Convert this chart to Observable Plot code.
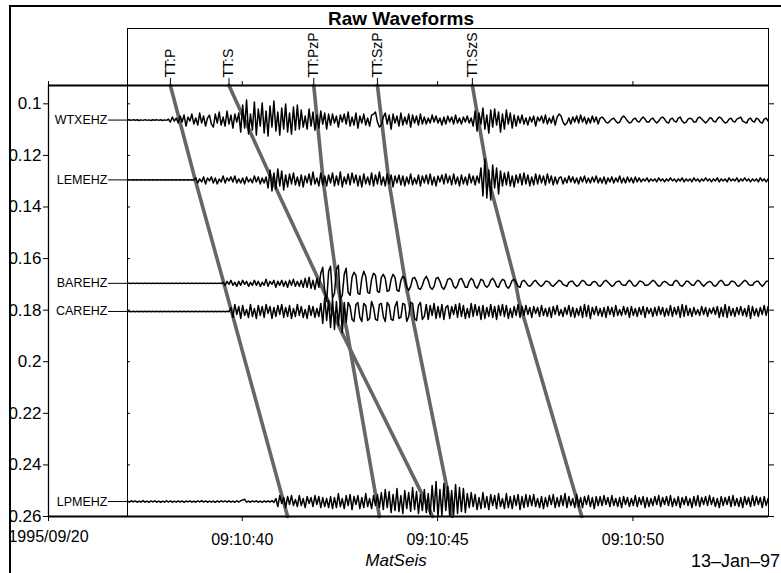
<!DOCTYPE html>
<html>
<head>
<meta charset="utf-8">
<script src="https://cdn.jsdelivr.net/npm/d3@7"></script>
<script src="https://cdn.jsdelivr.net/npm/@observablehq/plot@0.6"></script>
<style>
html, body { margin: 0; padding: 0; background: #fff; }
#fig { position: relative; width: 781px; height: 573px; overflow: hidden; background: #fff;
       font-family: "Liberation Sans", Arial, Helvetica, sans-serif; color: #000; }
#clip { position: absolute; left: 9px; top: 5px; width: 772px; height: 568px; box-sizing: border-box;
        border-left: 2px solid #000; border-top: 2px solid #000; overflow: hidden; }
#inner { position: absolute; left: -11px; top: -7px; width: 781px; height: 573px; }
#title { position: absolute; left: 0; top: 9px; width: 802px; text-align: center;
         font-weight: bold; font-size: 19px; line-height: 19px; }
#chart { position: absolute; left: 0; top: 28px; }
#prog { position: absolute; left: 296px; top: 552px; width: 200px; text-align: center;
        font-style: italic; font-size: 17px; line-height: 17px; }
#date { position: absolute; left: 580px; top: 552px; width: 200px; text-align: right;
        font-size: 18px; line-height: 18px; }
</style>
</head>
<body>
<div id="fig">
  <div id="clip">
    <div id="inner">
      <div id="title">Raw Waveforms</div>
      <div id="chart"></div>
      <div id="prog">MatSeis</div>
      <div id="date">13–Jan–97</div>
    </div>
  </div>
</div>
<script>
// ---- stations (distance axis) ----
const stationNames = ["WTXEHZ", "LEMEHZ", "BAREHZ", "CAREHZ", "LPMEHZ"];
const stationDist = [0.1063, 0.1295, 0.1696, 0.1805, 0.2542];

// ---- waveform samples (counts ~ screen px, + = up) ----
const traceStart = 37.06;   // seconds after 09:10:00
const traceStep = 0.05;     // seconds per sample
const traceGain = 0.000388; // distance units per count

const wtxSamples = [
  0,0.3,-0.3,0.4,-0.2,0.3,-0.4,0.2,-0.3,0.4,-0.3,0.2,-0.4,0.3,-0.2,0.4,-0.3,0.3,-0.4,0.2,-0.3,
  1,-2,3,-1,2,-3,
  4,-2,5,-6,3,-1,6,-4,2,-5,7,-3,4,-6,2,5,-4,-7,6,-3,8,-5,3,-6,9,-4,5,-8,6,-2,7,
  -12,15,-8,20,-14,6,-10,18,-15,11,-6,17,-13,9,-16,14,-7,19,-11,8,-15,12,-9,16,-12,7,-14,13,-10,15,-9,
  10,-7,4,-9,11,-6,8,-10,5,-8,9,-4,7,-9,6,
  -5,6,-3,4,-7,5,-2,6,-4,8,-6,3,-5,7,-8,4,-3,6,-5,2,-6,5,
  6,8,-2,-7,-5,3,7,-4,5,-9,6,-3,4,-6,7,-5,3,-4,6,-7,5,-3,4,-5,6,-4,
  3,-4,2,-3,5,-2,4,-3,2,-5,3,-4,4,-2,3,-4,5,-3,2,-4,3,-2,4,-3,2,
  -6,9,-11,7,-4,12,-9,5,-13,10,-7,11,-5,8,-12,6,-9,10,-4,7,-8,5,-6,4,
  -3,5,-4,2,-5,3,-2,4,-6,3,-1,4,-3,5,-4,2,-3,4,-5,3,6,4,-2,-5,-3,2,-4,3,-2,4,-3,5,-2,3,-4,2,-3,4,-2,3,-4,
  2,3,1,-2,-3,-1,1,2,-1,-3,-2,2,4,2,-1,-3,-2,1,2,-1,-2,1,3,1,-2,-2,1,2,-1,-3,
  -1,2,3,1,-2,-3,1,2,-1,-2,2,3,-1,-3,-2,1,2,1,-2,-2,2,3,1,-1,-3,-1,2,2,-1,-2,
  1,3,2,-1,-3,-2,1,2,-1,-2,1,2,3,-1,-2,-3,1,2,-1,-2,2,1,-2,-3,1,2,-1
];
const lemSamples = [
  0,0.2,-0.2,0.2,-0.2,0.2,-0.2,0.2,-0.2,0.2,-0.2,0.2,-0.2,0.2,-0.2,0.2,-0.2,0.2,
  -0.2,0.2,-0.2,0.2,-0.2,0.2,-0.2,0.2,-0.2,0.2,-0.2,0.2,-0.2,0.2,-0.2,0.2,-0.2,
  2,-3,1,-2,3,-4,2,-1,3,-3,2,-4,1,-2,4,-3,2,-1,3,-2,4,-3,1,-3,2,-4,3,-2,1,-3,4,-2,3,-4,2,-3,3,
  -8,10,-11,7,-9,11,-6,9,-10,5,-7,
  6,-4,7,-5,3,-6,5,-7,4,-3,6,-5,8,-4,2,-6,7,-5,4,-6,5,-3,7,-6,4,-5,8,-7,3,-4,
  6,-5,7,-3,5,-6,4,-7,6,-4,3,-5,7,-6,5,-4,8,-5,3,-6,6,-4,5,-7,4,-3,5,
  -5,4,-6,3,-4,6,-5,2,-4,5,-6,4,-3,5,-4,6,-5,3,-6,4,-2,5,-4,6,-3,4,-5,6,-4,3,
  -6,5,-4,3,-5,6,-3,4,-5,4,-3,
  12,-16,21,-18,10,-20,15,-8,12,-14,9,-6,
  7,-5,8,-6,4,-7,5,-3,6,-5,7,-4,5,-6,3,-5,6,-4,5,-3,4,-5,6,-3,4,-5,3,-4,2,
  3,-4,2,-3,4,-2,3,-3,2,-4,3,-2,4,-3,2,-3,3,-2,4,-3,2,-3,3,-4,2,-2,3,-3,2,-2,
  4,-3,2,-3,3,-2,2,-3,3,-2,2,
  -2,1,-1,2,-2,1,-1,1,-2,2,-1,1,-2,1,-1,2,-1,1,-2,1,-1,2,-2,1,-1,1,-2,2,-1,1,
  -2,1,-1,2,-1,1,-2,1,-1,2,-2,1,-1,1,-2,2,-1,1,-1,2,-2,1,-1,2,-1,1,-2,1,-1,1,
  -2,2,-1,1,-2,1
];
const barSamples = [
  0,0.2,-0.2,0.2,-0.2,0.2,-0.2,0.2,-0.2,0.2,-0.2,0.2,-0.2,0.2,-0.2,0.2,-0.2,0.2,-0.2,0.2,-0.2,0.2,-0.2,0.2,-0.2,
  0.2,-0.2,0.2,-0.2,0.2,-0.2,0.2,-0.2,0.2,-0.2,0.2,-0.2,0.2,-0.2,0.2,-0.2,0.2,-0.2,0.2,-0.2,0.2,-0.2,0.2,-0.2,
  1,-2,2,-1,3,-2,1,-3,2,-2,3,-1,2,-3,1,-2,3,-2,2,-3,1,-2,4,-3,2,-1,3,-4,2,-2,
  3,-3,2,-4,3,-2,4,-3,2,-3,3,-4,
  5,-4,6,-5,3,-6,5,-4,
  10,16,-8,-18,12,17,-15,-10,14,18,-16,-12,9,15,
  -9,-12,6,11,8,-10,-11,5,12,7,-9,-10,4,10,8,-8,-9,6,9,5,-8,-7,4,9,6,-7,-8,
  3,7,5,-4,-7,-3,5,6,2,-5,-6,-2,4,7,3,-4,-6,-3,5,6,2,-4,-6,-2,4,
  5,3,-3,-5,-2,4,5,1,-4,-4,2,5,3,-3,-5,-1,4,3,-2,-4,-2,3,5,2,-3,-4,1,4,3,-3,-5,-2,3,4,1,-3,-4,
  2,3,1,-2,-3,-1,2,3,0,-2,-3,-1,2,2,1,-2,-3,-1,1,3,2,-1,-2,-3,1,2,2,-1,-3,-2,
  1,3,2,-1,-2,-2,1,2,1,-2,-3,-1,2,3,1,-1,-3,-2,1,2,2,-1,-2,-2,1,3,1,-2,-3,-1,
  2,2,1,-2,-2,-1,1,3,2,-1,-3,-2,1,2,1,-1,-2,-2,2,3,1,-2,-3,-1,2,2,0,-2,-2,1,
  3,2,-1,-3,-1,1,2,1,-2,-3,-1,2,3,1,-2,-2,-1,2,2,1,-2,-3,-1,1,3,2,-1,-2,-2,1,
  2,2,-1,-3,-1,2,2
];
const carSamples = [
  0,0.2,-0.2,0.2,-0.2,0.2,-0.2,0.2,-0.2,0.2,-0.2,0.2,-0.2,0.2,-0.2,0.2,-0.2,0.2,-0.2,0.2,-0.2,0.2,-0.2,0.2,-0.2,0.2,-0.2,
  0.2,-0.2,0.2,-0.2,0.2,-0.2,0.2,-0.2,0.2,-0.2,0.2,-0.2,0.2,-0.2,0.2,-0.2,0.2,-0.2,0.2,-0.2,0.2,-0.2,0.2,-0.2,0.2,-0.2,
  4,-6,7,-3,5,-7,6,-4,2,-6,7,-5,3,-7,6,-4,5,-6,7,-2,5,-7,4,-5,6,-3,7,-6,4,-5,
  6,-7,3,-5,7,-4,5,-6,2,-7,6,-4,5,-6,3,-5,
  8,-12,14,-9,11,-16,13,-18,10,-14,12,-21,9,-11,
  9,5,-8,-10,7,9,-6,-10,8,6,-9,-7,10,4,-8,-9,7,8,-5,-10,9,6,-8,-9,5,10,-7,-6,8,7,
  -10,-5,9,8,-7,-9,6,9,-8,
  -5,7,-8,6,-4,8,-7,5,-6,7,-8,4,6,-7,5,-3,7,-6,8,-5,6,-7,3,-6,8,-5,7,-4,5,-8,
  6,-7,4,-5,7,-6,5,-8,6,-4,7,-5,6,-7,3,-6,5,-4,7,-6,
  5,-4,6,-3,4,-6,5,-2,4,-5,6,-4,3,-5,4,-6,5,-3,6,-4,2,-5,4,-3,6,-5,4,-6,3,-4,
  5,-6,7,-5,6,-7,4,-3,5,-4,3,-5,4,-6,5,-3,4,-5,6,-4,2,-4,5,-3,4,-6,5,-4,3,-5,
  4,-3,5,-6,4,-2,3,-5,4,-4,5,-3,4,-5,3,-4,6,-5,4,-3,5,-6,7,-5,6,-4,3,-5,4,-3,
  2,-4,5,-3,4,-5,3,-2,4,-3,5,-6,4,-5,7,-6,5,-4,3,-5,4,-3,5,-4,3,-5,6,-7,5,-4,
  3,-5,4,-3,6,-4,5
];
const lpmSamples = [
  0.5,-0.6,0.8,-0.4,0.6,-0.7,0.4,-0.5,0.9,-0.6,0.5,-0.8,0.6,-0.4,0.7,-0.6,0.5,-0.7,0.4,-0.6,
  0.8,-0.5,0.6,-0.7,0.4,-0.6,0.7,-0.5,0.6,-0.8,0.5,-0.4,0.7,-0.6,0.5,-0.7,0.6,-0.4,0.8,-0.5,
  0.6,-0.7,0.4,-0.6,0.5,-0.8,0.6,-0.5,0.7,-0.4,0.6,-0.5,0.7,-0.6,0.5,-0.7,0.8,-0.5,0.6,1.6,
  2.2,-0.6,0.5,-0.7,0.6,-0.4,0.7,-0.6,0.5,-0.8,0.6,-0.5,0.7,-0.6,1,-1,
  3,-5,6,-2,4,-6,5,-3,6,-4,2,-5,6,-4,3,-6,5,-2,4,-5,6,-3,5,-6,4,-5,3,-6,
  5,-7,4,-6,8,-5,3,-7,6,-4,7,-8,5,-3,6,-7,4,-6,8,-5,3,-7,6,-4,7,-6,
  9,-8,12,-6,10,-11,7,-9,13,-10,6,-12,11,-7,9,-10,14,-8,10,-12,7,-9,12,-11,8,
  -13,16,-10,20,-15,12,-14,18,-9,15,-15,11,-13,17,-12,14,-10,13,-11,
  8,-6,9,-5,7,-8,4,-7,9,-6,5,-8,7,-4,6,-7,8,-5,3,-7,8,-6,5,-7,6,-4,7,-8,5,-6,7,-5,
  6,-4,7,-5,3,-6,5,-7,4,-5,6,-3,7,-6,4,-5,6,-4,8,-6,5,-4,3,-6,7,-5,4,-6,5,-3,6,-5,4,-7,5,-4,
  5,-4,6,-3,4,-5,6,-4,3,-5,4,-6,5,-3,4,-5,3,-4,6,-5,4,-3,5,-6,4,-5,3,-4,5,-3,
  6,-5,4,-3,5,-4,6,-5,3,-4,5,-6,4,-3,5,-4,3,-6,5,-4,6,-5,4,-3,5,-4,6,-3,4,-5,
  3,-6,5,-4,4,-3,5,-5,6,-4,3,-5,4,-6,5,-3,4,-5,6,-4,5,-3,4,-6,5,-4,3
];
const traceSamples = [wtxSamples, lemSamples, barSamples, carSamples, lpmSamples];

// ---- travel-time curves (distance, time in s after 09:10:00) ----
const phaseNames = ["TT:P", "TT:S", "TT:PzP", "TT:SzP", "TT:SzS"];
const pDist   = [0.0929, 0.1297, 0.1697, 0.26];
const pTime   = [38.16, 38.80, 39.53, 41.16];
const sDist   = [0.0929, 0.1297, 0.1697, 0.1878, 0.2525, 0.26];
const sTime   = [39.66, 40.77, 42.00, 42.52, 44.64, 44.87];
const pzpDist = [0.0929, 0.1297, 0.1697, 0.1889, 0.26];
const pzpTime = [41.83, 42.07, 42.43, 42.69, 43.51];
const szpDist = [0.0929, 0.1297, 0.1697, 0.1763, 0.2467, 0.26];
const szpTime = [43.46, 43.75, 44.18, 44.27, 45.21, 45.38];
const szsDist = [0.0929, 0.1297, 0.1697, 0.1763, 0.26];
const szsTime = [45.89, 46.31, 47.00, 47.08, 48.69];
const phaseDist = [pDist, sDist, pzpDist, szpDist, szsDist];
const phaseTime = [pTime, sTime, pzpTime, szpTime, szsTime];

// ---- axes ----
const timeDomain = [35.04, 53.47];
const distDomain = [0.0929, 0.26];
const timeTicks = [40, 45, 50];
const timeTickLabels = ["09:10:40", "09:10:45", "09:10:50"];
const dateLabel = "1995/09/20";
const distTicks = [0.1, 0.12, 0.14, 0.16, 0.18, 0.2, 0.22, 0.24, 0.26];
const distTickLabels = ["0.1", "0.12", "0.14", "0.16", "0.18", "0.2", "0.22", "0.24", "0.26"];

// ---- build tables ----
const traceRows = [];
stationNames.forEach((name, s) => {
  traceSamples[s].forEach((v, i) => {
    traceRows.push({name, t: traceStart + i * traceStep, y: stationDist[s] - v * traceGain});
  });
});
const curveRows = [];
phaseNames.forEach((name, k) => {
  phaseDist[k].forEach((d, j) => curveRows.push({name, t: phaseTime[k][j], d}));
});
const phaseTops = phaseNames.map((name, k) => ({name, t: phaseTime[k][0]}));
const stations = stationNames.map((name, s) => ({name, d: stationDist[s]}));

const chart = Plot.plot({
  width: 781,
  height: 520,
  marginLeft: 48,
  marginRight: 13,
  marginTop: 57,
  marginBottom: 32,
  style: {fontFamily: '"Liberation Sans", Arial, Helvetica, sans-serif', fontSize: "16px", background: "white", color: "black"},
  x: {domain: timeDomain},
  y: {domain: distDomain, reverse: true},
  marks: [
    Plot.frame({insetLeft: 79, insetTop: -57, strokeWidth: 1}),
    Plot.line(curveRows, {x: "t", y: "d", z: "name", stroke: "#666", strokeWidth: 3.6}),
    Plot.ruleX(phaseTops, {x: "t", insetTop: -7, insetBottom: 431, strokeWidth: 1}),
    Plot.text(phaseTops, {x: "t", text: "name", frameAnchor: "top", dy: -8, rotate: -90,
      textAnchor: "start", lineAnchor: "middle", fontSize: 14}),
    Plot.ruleY(stations, {y: "d", x1: () => traceStart, x2: () => traceStart, insetLeft: -19, strokeWidth: 1}),
    Plot.text(stations, {x: () => traceStart, y: "d", text: "name", dx: -20, textAnchor: "end", fontSize: 12.5}),
    Plot.line(traceRows, {x: "t", y: "y", z: "name", stroke: "black", strokeWidth: 1.5,
      strokeLinejoin: "round", clip: true}),
    Plot.axisY({anchor: "left", ticks: distTicks, tickSize: 5, tickPadding: 2, fontSize: 17, label: null,
      tickFormat: d => distTickLabels[distTicks.indexOf(d)]}),
    Plot.axisY({anchor: "right", ticks: distTicks, tickSize: 5, label: null, tickFormat: () => ""}),
    Plot.axisY({anchor: "left", ticks: distTicks, tickSize: -3, dx: 79, label: null, tickFormat: () => ""}),
    Plot.axisX({anchor: "top", ticks: [timeDomain[0], ...timeTicks], tickSize: 5, label: null, tickFormat: () => ""}),
    Plot.axisX({anchor: "bottom", ticks: timeTicks, tickSize: 5, tickPadding: 12, label: null,
      tickFormat: d => timeTickLabels[timeTicks.indexOf(d)]}),
    Plot.axisX({anchor: "bottom", ticks: [timeDomain[0]], tickSize: 5, tickPadding: 9, label: null,
      tickFormat: () => dateLabel}),
    Plot.ruleY([distDomain[0]], {strokeWidth: 2}),
    Plot.ruleY([distDomain[1]], {strokeWidth: 2}),
    Plot.ruleX([timeDomain[0]], {strokeWidth: 1.3})
  ]
});
document.getElementById("chart").appendChild(chart);
</script>
</body>
</html>
